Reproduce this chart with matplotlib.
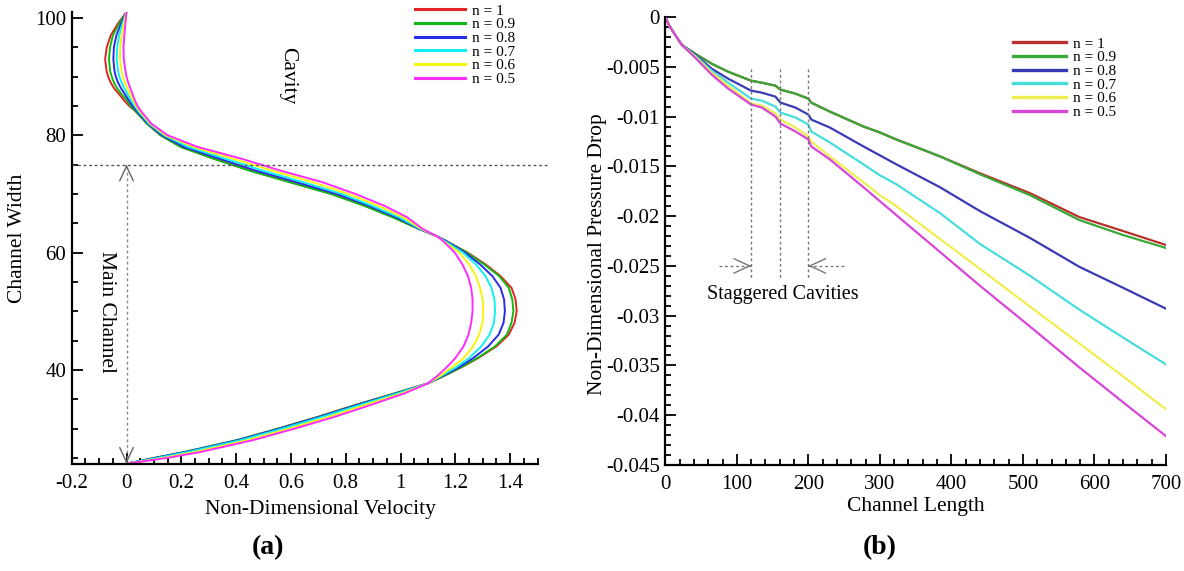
import numpy as np
import matplotlib.pyplot as plt
from matplotlib.ticker import MultipleLocator, FuncFormatter

plt.rcParams['font.family'] = ['Liberation Serif', 'DejaVu Serif']
plt.rcParams['axes.unicode_minus'] = False

n_labels = ['n = 1', 'n = 0.9', 'n = 0.8', 'n = 0.7', 'n = 0.6', 'n = 0.5']

# ---- (a) velocity profile across the channel width ----
width_pos = [24, 25, 26, 28, 30, 32, 34, 36, 37.7, 39, 40.5, 42, 44, 46, 48, 50, 52, 54, 56, 58,
             60, 62, 62.8, 64, 66, 68, 70, 72, 74, 75, 76, 78, 80, 82, 84, 85, 86, 87, 88, 89,
             90, 91, 93, 95, 97, 99, 101]

vel_n10 = [0, 0.12, 0.22, 0.405, 0.555, 0.70, 0.835, 0.98, 1.10, 1.16, 1.225, 1.283, 1.35, 1.395,
           1.416, 1.424, 1.42, 1.405, 1.365, 1.31, 1.245, 1.165, 1.132, 1.07, 0.975, 0.87, 0.75,
           0.60, 0.45, 0.385, 0.32, 0.20, 0.125, 0.075, 0.035, 0.01, -0.01, -0.027, -0.045,
           -0.058, -0.067, -0.073, -0.078, -0.072, -0.058, -0.032, 0]
vel_n09 = [0, 0.10, 0.21, 0.40, 0.555, 0.70, 0.835, 0.98, 1.10, 1.16, 1.223, 1.28, 1.345, 1.388,
           1.405, 1.412, 1.408, 1.395, 1.36, 1.305, 1.242, 1.165, 1.132, 1.068, 0.972, 0.866,
           0.745, 0.595, 0.447, 0.382, 0.318, 0.198, 0.124, 0.074, 0.035, 0.015, 0.0, -0.018,
           -0.034, -0.046, -0.054, -0.06, -0.064, -0.06, -0.05, -0.027, 0]
vel_n08 = [0, 0.105, 0.215, 0.405, 0.56, 0.705, 0.84, 0.985, 1.10, 1.155, 1.215, 1.265, 1.32,
           1.358, 1.376, 1.381, 1.378, 1.365, 1.335, 1.29, 1.235, 1.165, 1.132, 1.071, 0.985,
           0.884, 0.767, 0.62, 0.47, 0.405, 0.34, 0.21, 0.13, 0.078, 0.04, 0.022, 0.008, -0.006,
           -0.02, -0.031, -0.039, -0.044, -0.048, -0.046, -0.037, -0.02, 0]
vel_n07 = [0, 0.115, 0.225, 0.415, 0.57, 0.715, 0.85, 0.99, 1.10, 1.15, 1.205, 1.25, 1.295,
           1.325, 1.341, 1.345, 1.343, 1.332, 1.31, 1.275, 1.228, 1.16, 1.132, 1.074, 0.995,
           0.895, 0.785, 0.645, 0.495, 0.43, 0.36, 0.225, 0.137, 0.082, 0.045, 0.03, 0.016,
           0.004, -0.008, -0.018, -0.026, -0.031, -0.036, -0.034, -0.027, -0.015, 0]
vel_n06 = [0, 0.135, 0.25, 0.44, 0.595, 0.74, 0.87, 1.005, 1.10, 1.145, 1.19, 1.23, 1.265,
           1.287, 1.299, 1.302, 1.30, 1.29, 1.275, 1.25, 1.215, 1.155, 1.132, 1.078, 1.01,
           0.918, 0.81, 0.68, 0.53, 0.46, 0.39, 0.245, 0.143, 0.086, 0.05, 0.035, 0.024, 0.013,
           0.003, -0.006, -0.013, -0.018, -0.024, -0.023, -0.018, -0.01, 0]
vel_n05 = [0, 0.15, 0.27, 0.46, 0.615, 0.76, 0.89, 1.015, 1.10, 1.135, 1.17, 1.20, 1.23,
           1.248, 1.258, 1.263, 1.263, 1.258, 1.246, 1.226, 1.198, 1.155, 1.132, 1.082, 1.025,
           0.94, 0.835, 0.715, 0.56, 0.49, 0.42, 0.26, 0.15, 0.09, 0.055, 0.04, 0.03, 0.022,
           0.014, 0.006, 0.0, -0.004, -0.01, -0.011, -0.008, -0.004, 0]

# ---- (b) pressure drop along the channel ----
length_pos = [0, 5, 12, 23, 42, 65, 88, 120, 135, 154, 161, 182, 200, 204, 230, 277, 300, 323,
              384, 440, 510, 579, 640, 700]

dp_n10 = [0, -0.0008, -0.0016, -0.0028, -0.0037, -0.0047, -0.0055, -0.0064, -0.0066, -0.0069,
          -0.0073, -0.0077, -0.0082, -0.0086, -0.0095, -0.0110, -0.0116, -0.0123, -0.0140,
          -0.0157, -0.0177, -0.0201, -0.0215, -0.0229]
dp_n09 = [0, -0.0008, -0.0016, -0.0028, -0.0037, -0.0047, -0.0055, -0.0064, -0.0066, -0.0069,
          -0.0073, -0.0077, -0.0082, -0.0086, -0.0095, -0.0110, -0.0116, -0.0123, -0.0140,
          -0.0158, -0.0179, -0.0204, -0.0219, -0.0232]
dp_n08 = [0, -0.0008, -0.0016, -0.0028, -0.0038, -0.0052, -0.0062, -0.0074, -0.0076, -0.0080,
          -0.0086, -0.0091, -0.0098, -0.0103, -0.0111, -0.0130, -0.0139, -0.0148, -0.0171,
          -0.0195, -0.0222, -0.0251, -0.0272, -0.0293]
dp_n07 = [0, -0.0008, -0.0016, -0.0028, -0.0039, -0.0054, -0.0066, -0.0082, -0.0084, -0.0090,
          -0.0096, -0.0101, -0.0108, -0.0115, -0.0126, -0.0148, -0.0159, -0.0168, -0.0197,
          -0.0228, -0.0260, -0.0294, -0.0322, -0.0349]
dp_n06 = [0, -0.0008, -0.0016, -0.0028, -0.0040, -0.0056, -0.0069, -0.0087, -0.0089, -0.0097,
          -0.0103, -0.0111, -0.0120, -0.0125, -0.0140, -0.0166, -0.0179, -0.0190, -0.0223,
          -0.0253, -0.0291, -0.0328, -0.0361, -0.0394]
dp_n05 = [0, -0.0008, -0.0016, -0.0028, -0.0041, -0.0058, -0.0072, -0.0088, -0.0091, -0.0100,
          -0.0107, -0.0115, -0.0123, -0.0130, -0.0143, -0.0171, -0.0185, -0.0199, -0.0236,
          -0.0270, -0.0311, -0.0352, -0.0387, -0.0421]

cavity_x = [120, 160, 200]

colors_a = ['#e02424', '#12b812', '#2a2ae8', '#10f0f0', '#f5f510', '#ff2cff']
colors_b = ['#b8302a', '#38a838', '#3a3ab4', '#48dcdc', '#eeee50', '#d846d8']

W, H = 1184, 571
fig = plt.figure(figsize=(W / 100, H / 100), dpi=100)


def px_axes(x0, y0, x1, y1):
    # pixel box (left, top, right, bottom) -> figure fraction
    return [x0 / W, 1 - y1 / H, (x1 - x0) / W, (y1 - y0) / H]


def short_num(v, pos):
    v = round(v, 6)
    return '0' if v == 0 else '%g' % v


def style_axes(ax):
    for s in ['top', 'right']:
        ax.spines[s].set_visible(False)
    for s in ['left', 'bottom']:
        ax.spines[s].set_linewidth(1.6)
    ax.tick_params(which='both', direction='in', width=1.3, labelsize=15)
    ax.tick_params(which='major', length=8)
    ax.tick_params(which='minor', length=4.5)
    ax.tick_params(axis='x', pad=7)
    ax.tick_params(axis='y', pad=4)
    ax.xaxis.set_major_formatter(FuncFormatter(short_num))
    ax.yaxis.set_major_formatter(FuncFormatter(short_num))


# ---------------- panel (a) ----------------
ax1 = fig.add_axes(px_axes(71.7, 12.1, 537.5, 464.3))
profiles = [vel_n10, vel_n09, vel_n08, vel_n07, vel_n06, vel_n05]
for vel, c, lab in zip(profiles, colors_a, n_labels):
    ax1.plot(vel, width_pos, color=c, lw=1.4, label=lab)

ax1.set_xlim(-0.2, 1.5)
ax1.set_ylim(23.9, 101)
ax1.xaxis.set_major_locator(MultipleLocator(0.2))
ax1.xaxis.set_minor_locator(MultipleLocator(0.05))
ax1.yaxis.set_major_locator(MultipleLocator(20))
ax1.yaxis.set_minor_locator(MultipleLocator(5))
style_axes(ax1)

ax1.set_xlabel('Non-Dimensional Velocity', fontsize=15.5)
ax1.xaxis.set_label_coords(0.533, -0.078)
ax1.set_ylabel('Channel Width', fontsize=15.5)
ax1.yaxis.set_label_coords(-0.096, 0.5)

# cavity / main channel boundary
ax1.plot([-0.2, 1.538], [75, 75], color='#555555', lw=1.0, ls=(0, (2, 2)), clip_on=False)
ax1.plot([0, 0], [24, 75], color='#888888', lw=1.0, ls=(0, (2, 2)))
for y_tip, y_tail in [(75, 74.6), (24, 24.4)]:
    ax1.annotate('', xy=(0, y_tip), xytext=(0, y_tail),
                 arrowprops=dict(arrowstyle='->,head_length=0.75,head_width=0.35',
                                 color='#666666', lw=1.0, mutation_scale=14,
                                 shrinkA=0, shrinkB=0))
ax1.text(0.588, 90.1, 'Cavity', rotation=-90, fontsize=15.5, ha='center', va='center')
ax1.text(-0.072, 49.9, 'Main Channel', rotation=-90, fontsize=15.5, ha='center', va='center')

ax1.legend(loc='upper left', bbox_to_anchor=(415 / W, 1 - 4 / H), bbox_transform=fig.transFigure,
           frameon=False, fontsize=11, handlelength=3.27, handletextpad=0.45,
           labelspacing=0.0, borderpad=0, borderaxespad=0)
for line in ax1.get_legend().get_lines():
    line.set_linewidth(2.2)

# ---------------- panel (b) ----------------
ax2 = fig.add_axes(px_axes(665.3, 17, 1166, 465))
drops = [dp_n10, dp_n09, dp_n08, dp_n07, dp_n06, dp_n05]
for dp, c, lab in zip(drops, colors_b, n_labels):
    ax2.plot(length_pos, dp, color=c, lw=1.6, label=lab)

ax2.set_xlim(0, 700)
ax2.set_ylim(-0.045, 0)
ax2.xaxis.set_major_locator(MultipleLocator(100))
ax2.xaxis.set_minor_locator(MultipleLocator(20))
ax2.yaxis.set_major_locator(MultipleLocator(0.005))
ax2.yaxis.set_minor_locator(MultipleLocator(0.001))
style_axes(ax2)

ax2.set_xlabel('Channel Length', fontsize=15.5)
ax2.xaxis.set_label_coords(0.5, -0.071)
ax2.set_ylabel('Non-Dimensional Pressure Drop', fontsize=15.5)
ax2.yaxis.set_label_coords(-0.116, 0.47)

# staggered cavity positions
for cx in cavity_x:
    ax2.plot([cx, cx], [-0.0052, -0.0263], color='#777777', lw=1.0, ls=(0, (2, 2)))
for x_tip, x_tail in [(cavity_x[0], 75), (cavity_x[-1], 250)]:
    ax2.plot([x_tail, x_tip], [-0.025, -0.025], color='#777777', lw=1.0, ls=(0, (2, 2)))
    ax2.annotate('', xy=(x_tip, -0.025), xytext=(x_tip + (x_tail - x_tip) * 0.02, -0.025),
                 arrowprops=dict(arrowstyle='->,head_length=0.75,head_width=0.35',
                                 color='#777777', lw=1.0, mutation_scale=15,
                                 shrinkA=0, shrinkB=0))
ax2.text(164.5, -0.0279, 'Staggered Cavities', fontsize=14.5, ha='center', va='center')

ax2.legend(loc='upper left', bbox_to_anchor=(1013 / W, 1 - 37 / H), bbox_transform=fig.transFigure,
           frameon=False, fontsize=11, handlelength=3.47, handletextpad=0.45,
           labelspacing=0.0, borderpad=0, borderaxespad=0)
for line in ax2.get_legend().get_lines():
    line.set_linewidth(2.4)

fig.text(268 / W, 1 - 548 / H, '(a)', fontsize=20, fontweight='bold', ha='center', va='center')
fig.text(880 / W, 1 - 548 / H, '(b)', fontsize=20, fontweight='bold', ha='center', va='center')

fig.savefig('out.png', dpi=100)
